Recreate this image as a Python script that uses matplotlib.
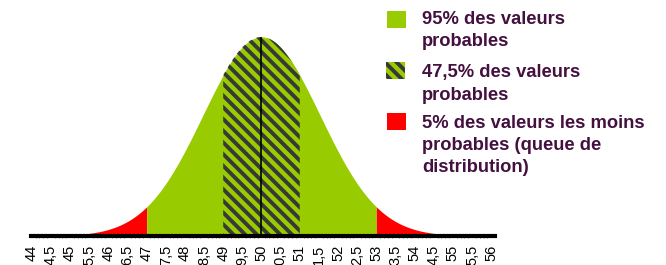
import numpy as np
import matplotlib.pyplot as plt
from matplotlib.patches import Rectangle
from matplotlib.transforms import IdentityTransform

plt.rcParams['font.family'] = ['Liberation Sans', 'DejaVu Sans']

# loi normale : 95% des valeurs entre 47 et 53
mu = 50
sigma = 3 / 1.96
x_range = [44, 56]
green_range = [47, 53]
hatch_range = [49, 51]

tick_values = [44, 44.5, 45, 45.5, 46, 46.5, 47, 47.5, 48, 48.5, 49, 49.5, 50,
               50.5, 51, 51.5, 52, 52.5, 53, 53.5, 54, 54.5, 55, 55.5, 56]
tick_labels = ['44', '4,5', '45', '5,5', '46', '6,5', '47', '7,5', '48', '8,5',
               '49', '9,5', '50', '0,5', '51', '1,5', '52', '2,5', '53', '3,5',
               '54', '4,5', '55', '5,5', '56']

legend_lines = [['95% des valeurs', 'probables'],
                ['47,5% des valeurs', 'probables'],
                ['5% des valeurs les moins', 'probables (queue de', 'distribution)']]

GREEN = '#99cc00'
RED = '#ff0000'
STRIPE = '#383838'
TXT = '#44103f'
W, H = 666, 265


def curve(a, b):
    xs = np.linspace(a, b, 400)
    return xs, np.exp(-(xs - mu) ** 2 / (2 * sigma ** 2))


def stripes(target, x0, x1, y0, y1, clip, clip_tr=None, step=11.7, phase=0.0):
    # diagonal lines (top-left -> bottom-right), in pixels
    for u in np.arange(x0 + y0 + phase, x1 + y1 + step, step):
        xs = np.array([x0 - 5, x1 + 5])
        ln = plt.Line2D(xs, u - xs, color=STRIPE, lw=2.8, solid_capstyle='butt',
                        transform=IdentityTransform(), zorder=3)
        if clip_tr is None:
            ln.set_clip_path(clip)
        else:
            ln.set_clip_path(clip, clip_tr)
        target.add_artist(ln)


fig = plt.figure(figsize=(W / 100, H / 100), dpi=100)
ax = fig.add_axes([31 / W, 29 / H, 464 / W, 199 / H])
ax.set_xlim(43.98, 56.1)
ax.set_ylim(0, 1)
ax.set_autoscale_on(False)

ax.fill_between(*curve(x_range[0], green_range[0]), color=RED, lw=0)
ax.fill_between(*curve(green_range[0], green_range[1]), color=GREEN, lw=0)
ax.fill_between(*curve(green_range[1], x_range[1]), color=RED, lw=0)
hatch = ax.fill_between(*curve(hatch_range[0], hatch_range[1]), color=GREEN, lw=0)

(px0, py0), (px1, py1) = ax.transData.transform([[hatch_range[0], 0], [hatch_range[1], 1]])
stripes(ax, px0, px1, py0, py1, hatch.get_paths()[0], ax.transData)

ax.plot([mu, mu], [0, 1], color='black', lw=1.2, zorder=5)

for s in ['top', 'right', 'left']:
    ax.spines[s].set_visible(False)
ax.spines['bottom'].set_linewidth(3)
ax.spines['bottom'].set_color('black')
ax.spines['bottom'].set_zorder(6)
ax.set_yticks([])
ax.set_xticks(tick_values, tick_labels, rotation=90, fontsize=10.5)
ax.set_xticks(np.arange(44, 56.05, 0.1), minor=True)
ax.tick_params(axis='x', which='major', length=0, pad=6)
ax.tick_params(axis='x', which='minor', length=3, width=0.5, color='#555555', direction='inout')

# legende
boxes = [(387, 10.5, GREEN), (386, 62, GREEN), (387, 113, RED)]
first_base = [24, 77.5, 128.5]
squares = []
for (bx, by, col), lines, base in zip(boxes, legend_lines, first_base):
    rect = Rectangle((bx / W, 1 - (by + 17) / H), 19 / W, 17 / H,
                     transform=fig.transFigure, facecolor=col, lw=0)
    fig.add_artist(rect)
    squares.append(rect)
    for j, line in enumerate(lines):
        fig.text(422 / W, 1 - (base + j * 22) / H, line, fontsize=13.2,
                 fontweight='bold', color=TXT, va='baseline', ha='left')

hx, hy = boxes[1][0], boxes[1][1]
stripes(fig, hx, hx + 19, H - hy - 17, H - hy, squares[1], phase=4)

fig.savefig('out.png', dpi=100)
